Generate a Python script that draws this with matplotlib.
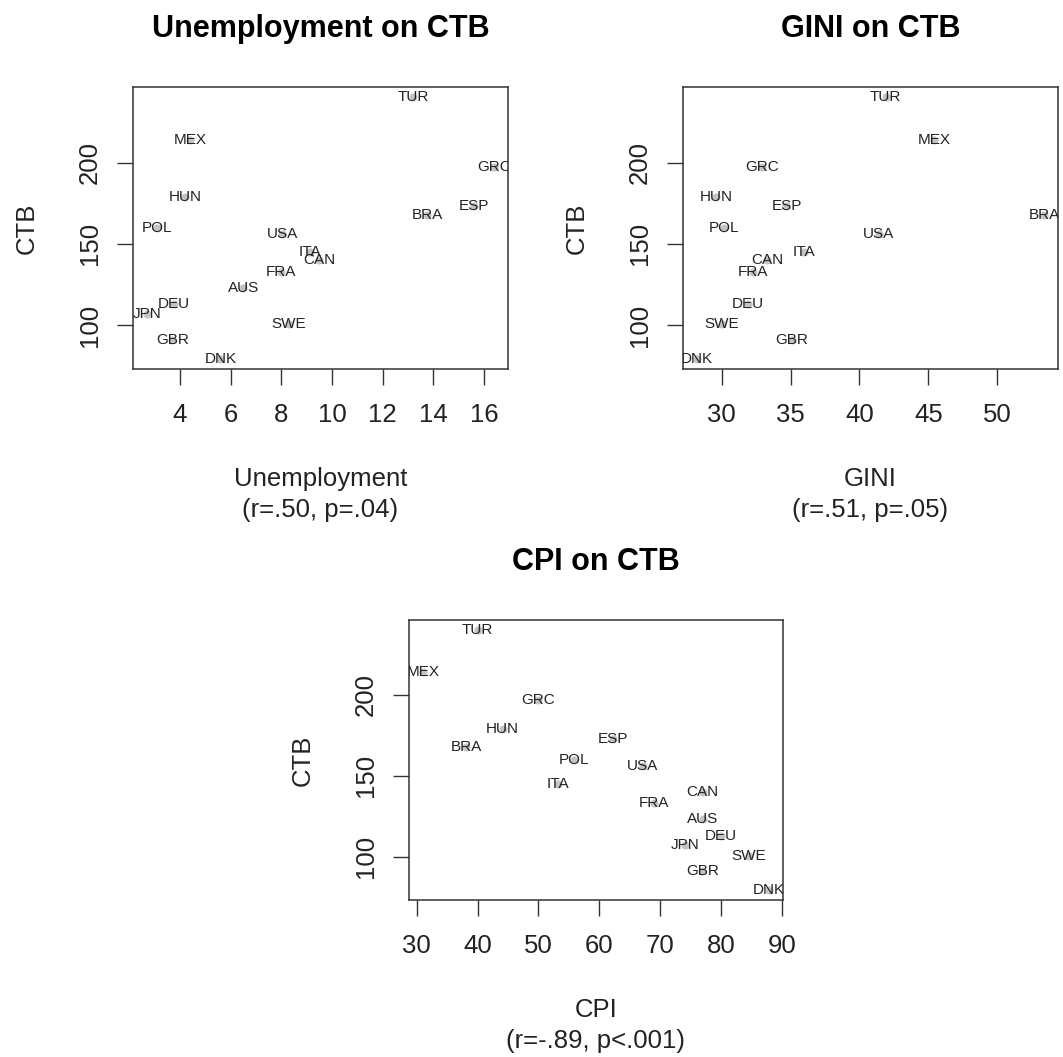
"""Three scatter panels: CTB against unemployment, GINI and CPI, points labelled by
country code. Writes out.png.
"""
import numpy as np
import matplotlib
matplotlib.use('Agg')
import matplotlib.pyplot as plt

plt.rcParams['font.family'] = ['Liberation Sans', 'DejaVu Sans']

countries = ['TUR', 'MEX', 'GRC', 'HUN', 'ESP', 'BRA', 'POL', 'USA', 'ITA',
             'CAN', 'FRA', 'AUS', 'DEU', 'JPN', 'SWE', 'GBR', 'DNK']
ctb = [240, 214, 197, 179, 173, 168, 160, 156, 145,
       140, 133, 123, 113, 107, 100.5, 91, 79.5]
unemployment = [13.2, 4.4, 16.4, 4.2, 15.6, 13.75, 3.1, 8.05, 9.15,
                9.5, 8.0, 6.5, 3.75, 2.7, 8.3, 3.7, 5.6]
gini = [41.9, 45.4, 32.9, 29.6, 34.7, 53.4, 30.2, 41.4, 36.0,
        33.3, 32.3, np.nan, 31.9, np.nan, 30.0, 35.1, 28.2]
cpi = [40.0, 31.0, 50.0, 44.1, 62.2, 38.1, 55.9, 67.1, 53.2,
       77.0, 68.9, 77.0, 80.0, 74.1, 84.6, 76.9, 87.9]

W, H = 1063, 1057
INK = '#222222'


def panel(box, xs, title, xlabel, stat, xticks):
    l, t, r, b = box
    ax = fig.add_axes([l / W, 1 - b / H, (r - l) / W, (b - t) / H])
    x = np.array(xs, dtype=float)
    y = np.array(ctb, dtype=float)
    ok = ~np.isnan(x)
    ax.scatter(x[ok], y[ok], s=34, c='#c4c4c4', linewidths=0, zorder=2)
    for xi, yi, name in zip(x[ok], y[ok], np.array(countries)[ok]):
        ax.text(xi, yi, name, fontsize=11, color=INK, ha='center',
                va='center', zorder=3, clip_on=True)
    ax.margins(x=0.04, y=0.04)
    ax.set_xticks(xticks)
    ax.set_yticks([100, 150, 200])
    ax.tick_params(length=11.5, width=1.0, color='#333333', labelsize=18.5,
                   labelcolor=INK)
    ax.tick_params(axis='x', pad=13)
    ax.tick_params(axis='y', pad=11)
    for lab in ax.get_yticklabels():
        lab.set_rotation(90)
        lab.set_va('center')
    for s in ax.spines.values():
        s.set_linewidth(1.1)
        s.set_color('#333333')
    ax.set_title(title, fontsize=22, fontweight='bold', pad=36)
    ax.set_xlabel(xlabel + '\n' + stat, fontsize=18.5, color=INK,
                  labelpad=29, linespacing=1.35)
    ax.set_ylabel('CTB', fontsize=18.5, color=INK, labelpad=28)
    return ax


fig = plt.figure(figsize=(W / 100, H / 100), dpi=100)
panel((133, 87, 508, 369), unemployment, 'Unemployment on CTB',
      'Unemployment', '(r=.50, p=.04)', [4, 6, 8, 10, 12, 14, 16])
panel((683, 87, 1058, 369), gini, 'GINI on CTB',
      'GINI', '(r=.51, p=.05)', [30, 35, 40, 45, 50])
panel((409, 620, 783, 900), cpi, 'CPI on CTB',
      'CPI', '(r=-.89, p<.001)', [30, 40, 50, 60, 70, 80, 90])

fig.savefig('out.png', dpi=100)
